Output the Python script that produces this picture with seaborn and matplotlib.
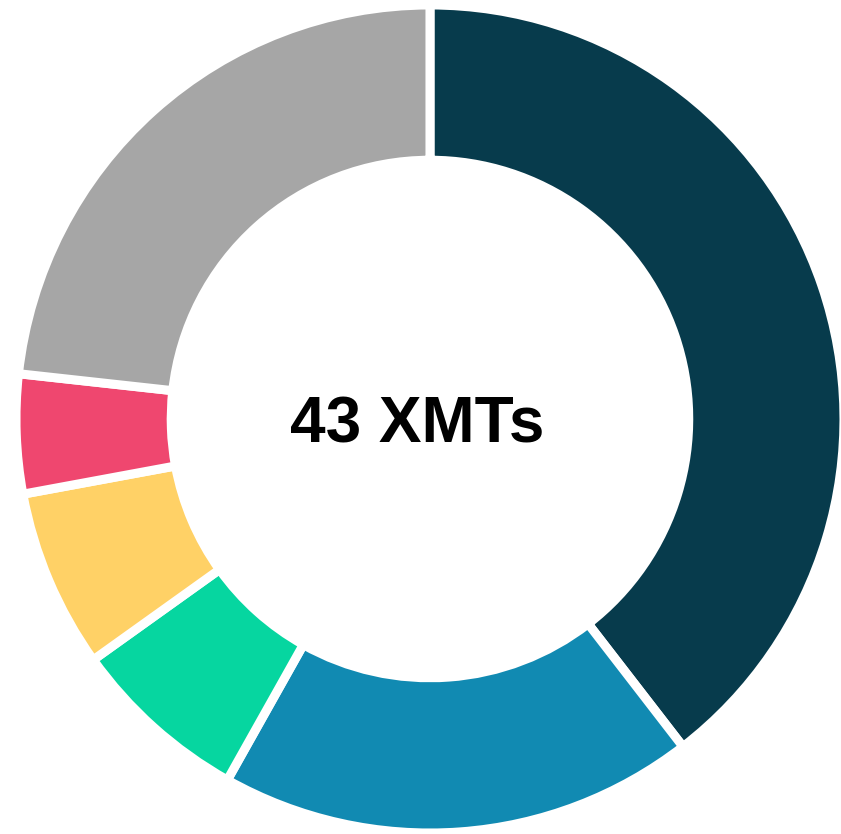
import matplotlib
matplotlib.use("Agg")
import matplotlib.pyplot as plt
import seaborn as sns

sns.set_theme(style="white")
plt.rcParams['font.family'] = ['Liberation Sans', 'DejaVu Sans']

labels = ["A", "B", "C", "D", "E", "F"]
counts = [17, 8, 3, 3, 2, 10]
colors = ["#073b4c", "#118ab2", "#06d6a0", "#ffd166", "#ef476f", "#a6a6a6"]
center_text = "43 XMTs"

fig = plt.figure(figsize=(8.41, 8.34), dpi=100)
ax = fig.add_axes([0, 0, 1, 1])
ax.pie(counts, colors=colors, startangle=90, counterclock=False,
       radius=1.0,
       wedgeprops=dict(width=0.375, edgecolor="white", linewidth=6.5))
ax.text(-0.03, -0.015, center_text, ha="center", va="center",
        fontsize=46, fontweight="bold", color="black")
ax.set_xlim(-1.0386, 0.9928)
ax.set_ylim(-1.0024, 1.012)
ax.set_aspect("auto")
ax.axis("off")
fig.savefig("out.png", dpi=100)
